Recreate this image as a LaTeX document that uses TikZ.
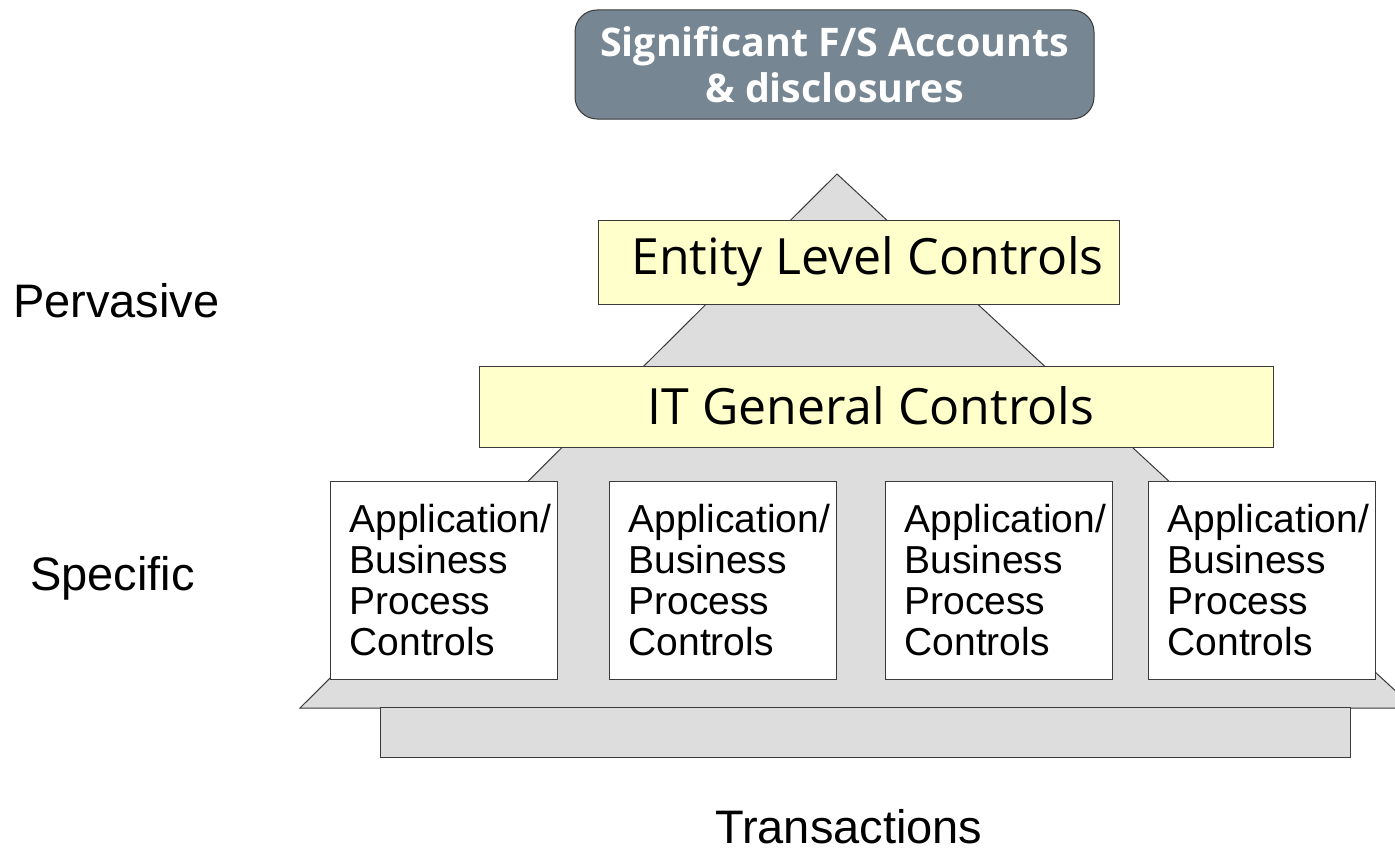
\documentclass[tikz,border=0pt]{standalone}
\usepackage{fontspec}
\setmainfont{Liberation Sans}
\newfontfamily\boxfont{Open Sans}
\definecolor{pyrgray}{HTML}{DDDDDD}
\definecolor{paleyellow}{HTML}{FFFFCC}
\definecolor{slate}{HTML}{768692}
\definecolor{edgegray}{HTML}{3A3A3A}
\begin{document}
\begin{tikzpicture}[x=1pt,y=-1pt,
  edge/.style={draw=edgegray,line width=1pt},
  ctrl/.style={edge,fill=paleyellow,inner sep=0pt,font=\boxfont\fontsize{50}{55}\selectfont},
  appbox/.style={edge,fill=white,anchor=north west,minimum width=227pt,minimum height=198pt,
    text width=189pt,align=left,inner xsep=19pt,inner ysep=0pt,font=\fontsize{39}{41}\selectfont},
  side/.style={anchor=base west,inner sep=0pt,font=\fontsize{47}{50}\selectfont}]
\useasboundingbox (0,0) rectangle (1395,851);
\clip (0,0) rectangle (1395,851);
\draw[edge,fill=pyrgray] (837,174) -- (1414,708) -- (300,708) -- cycle;
\draw[edge,fill=pyrgray] (380,707) rectangle (1350,757);
\node[ctrl,minimum width=521pt,minimum height=84pt] (entity) at (858.5,262) {\raisebox{3pt}{\hspace{18pt}Entity Level Controls}};
\node[ctrl,minimum width=794pt,minimum height=81pt] (itgc) at (876,406.5) {\raisebox{2pt}{IT General Controls\hspace{10pt}}};
\foreach \x/\n in {330/1,609/2,885/3,1148/4}
  \node[appbox] (app\n) at (\x,481) {Application/\\Business\\Process\\Controls};
\node[edge,fill=slate,rounded corners=22pt,minimum width=519pt,minimum height=109pt,
  text=white,align=center,font=\boxfont\bfseries\fontsize{39.4}{46}\selectfont] (fsacc) at (834.5,64.5)
  {Significant F/S Accounts\\\& disclosures};
\node[side] (pervasive) at (13,317) {Pervasive};
\node[side] (specific) at (30,590) {Specific};
\node[side] (transactions) at (715,843) {Transactions};
\end{tikzpicture}
\end{document}
